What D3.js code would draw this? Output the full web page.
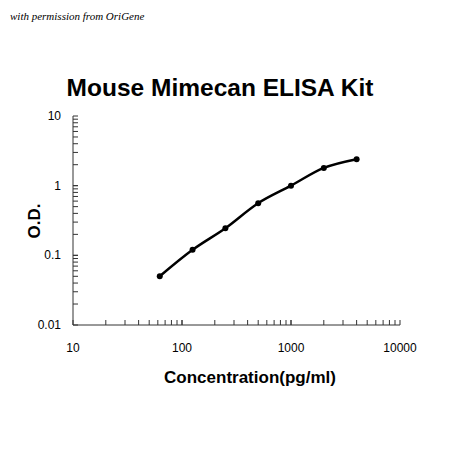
<!DOCTYPE html><html><head><script src="https://cdn.jsdelivr.net/npm/d3@7"></script>
<style>body{margin:0;background:#fff}</style></head><body><svg width="450" height="450"></svg>
<script>
const conc=[62.5,125,250,500,1000,2000,4000];
const od=[0.05,0.12,0.245,0.56,1.0,1.8,2.4];
const xTicks=[10,100,1000,10000];
const yTicks=[0.01,0.1,1,10];
const svg=d3.select("svg");
const L=73,R=400,T=116,B=325;
const x=d3.scaleLog().domain([10,10000]).range([L,R]);
const y=d3.scaleLog().domain([0.01,10]).range([B,T]);
svg.append("text").attr("x",10).attr("y",20).attr("font-family","Liberation Serif").attr("font-style","italic").attr("font-size",11).text("with permission from OriGene");
svg.append("text").attr("x",220).attr("y",96).attr("text-anchor","middle").attr("font-family","Liberation Sans").attr("font-weight","bold").attr("font-size",24.5).text("Mouse Mimecan ELISA Kit");
const g=svg.append("g").attr("stroke","#333").attr("stroke-width",1);
g.append("line").attr("x1",L).attr("x2",L).attr("y1",T).attr("y2",B);
g.append("line").attr("x1",L).attr("x2",R).attr("y1",B).attr("y2",B);
const xm=[];for(let d=10;d<10000;d*=10)for(let k=1;k<=10;k++)xm.push(d*k);
xm.forEach(v=>g.append("line").attr("x1",x(v)).attr("x2",x(v)).attr("y1",B).attr("y2",B-5));
const ym=[];for(let d=0.01;d<9;d*=10)for(let k=1;k<=10;k++)ym.push(d*k);
ym.forEach(v=>g.append("line").attr("x1",L).attr("x2",L+5).attr("y1",y(v)).attr("y2",y(v)));
xTicks.forEach(v=>svg.append("text").attr("x",x(v)).attr("y",352).attr("text-anchor","middle").attr("font-family","Liberation Sans").attr("font-size",12).text(String(v)));
yTicks.forEach(v=>svg.append("text").attr("x",L-12).attr("y",y(v)+4).attr("text-anchor","end").attr("font-family","Liberation Sans").attr("font-size",12).text(String(v)));
svg.append("text").attr("x",250).attr("y",383).attr("text-anchor","middle").attr("font-family","Liberation Sans").attr("font-weight","bold").attr("font-size",17).text("Concentration(pg/ml)");
svg.append("text").attr("transform","translate(40,221) rotate(-90)").attr("text-anchor","middle").attr("font-family","Liberation Sans").attr("font-weight","bold").attr("font-size",17).text("O.D.");
const line=d3.line().x((d,i)=>x(conc[i])).y(d=>y(d)).curve(d3.curveCatmullRom.alpha(0.5));
svg.append("path").attr("d",line(od)).attr("fill","none").attr("stroke","#000").attr("stroke-width",2.5);
svg.selectAll("circle").data(od).join("circle").attr("cx",(d,i)=>x(conc[i])).attr("cy",d=>y(d)).attr("r",3).attr("fill","#000");
</script></body></html>
